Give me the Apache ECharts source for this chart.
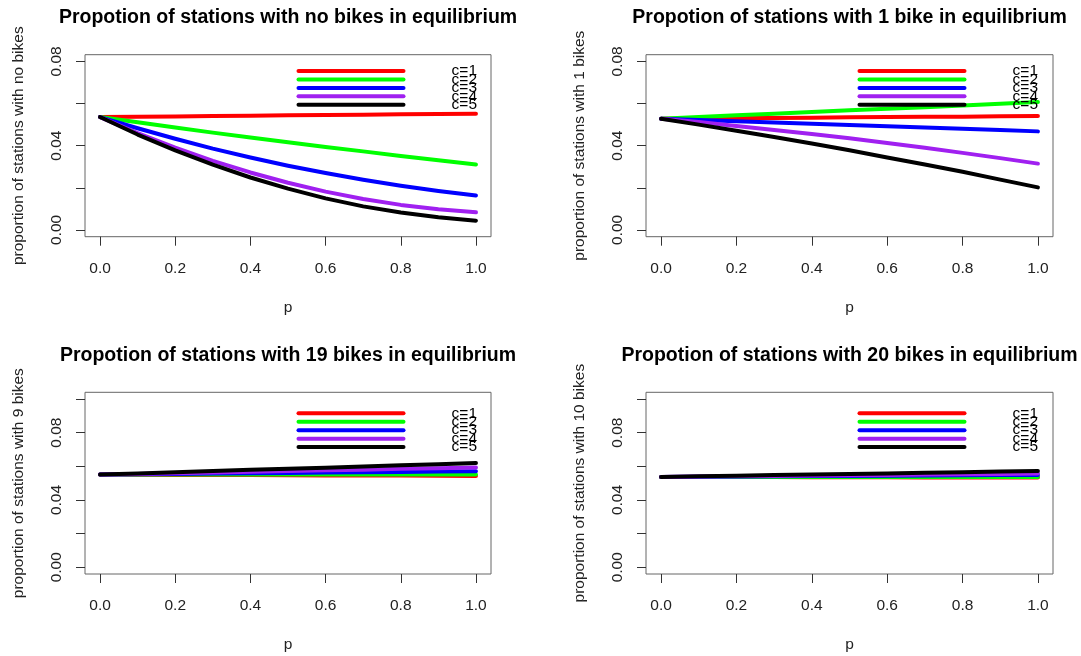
<!DOCTYPE html>
<html>
<head>
<meta charset="utf-8">
<script src="https://cdn.jsdelivr.net/npm/echarts@6/dist/echarts.min.js"></script>
<style>
html,body{margin:0;padding:0;background:#fff;}
#chart{width:1081px;height:656px;}
</style>
</head>
<body>
<div id="chart"></div>
<script>
// ---- data ----
const pVals = [0, 0.1, 0.2, 0.3, 0.4, 0.5, 0.6, 0.7, 0.8, 0.9, 1.0];
const seriesNames = ['c=1', 'c=2', 'c=3', 'c=4', 'c=5'];
const xTicks = [0, 0.2, 0.4, 0.6, 0.8, 1.0];
const yTicksTop = [0, 0.02, 0.04, 0.06, 0.08];
const yTicksBottom = [0, 0.02, 0.04, 0.06, 0.08, 0.10];
const yLabelTicks = [0, 0.04, 0.08];

const panelTitles = [
  'Propotion of stations with no bikes in equilibrium',
  'Propotion of stations with 1 bike in equilibrium',
  'Propotion of stations with 19 bikes in equilibrium',
  'Propotion of stations with 20 bikes in equilibrium'
];
const panelYNames = [
  'proportion of stations with no bikes',
  'proportion of stations with 1 bikes',
  'proportion of stations with 9 bikes',
  'proportion of stations with 10 bikes'
];

// panel 1: no bikes
const noBikesC1 = [0.0536,0.0538,0.0539,0.0541,0.0542,0.0544,0.0546,0.0547,0.0549,0.0550,0.0552];
const noBikesC2 = [0.0536,0.0511,0.0486,0.0462,0.0439,0.0416,0.0394,0.0373,0.0351,0.0331,0.0311];
const noBikesC3 = [0.0536,0.0483,0.0433,0.0386,0.0344,0.0305,0.0270,0.0238,0.0210,0.0185,0.0164];
const noBikesC4 = [0.0536,0.0460,0.0391,0.0328,0.0273,0.0224,0.0182,0.0147,0.0119,0.0098,0.0084];
const noBikesC5 = [0.0536,0.0453,0.0378,0.0310,0.0249,0.0196,0.0150,0.0112,0.0083,0.0060,0.0044];
// panel 2: 1 bike
const oneBikeC1 = [0.0528,0.0529,0.0531,0.0532,0.0533,0.0535,0.0536,0.0537,0.0538,0.0540,0.0541];
const oneBikeC2 = [0.0528,0.0536,0.0544,0.0552,0.0560,0.0568,0.0575,0.0583,0.0591,0.0599,0.0607];
const oneBikeC3 = [0.0528,0.0522,0.0516,0.0510,0.0504,0.0498,0.0492,0.0486,0.0480,0.0474,0.0468];
const oneBikeC4 = [0.0528,0.0512,0.0494,0.0475,0.0456,0.0435,0.0413,0.0390,0.0366,0.0341,0.0315];
const oneBikeC5 = [0.0528,0.0500,0.0471,0.0441,0.0410,0.0378,0.0344,0.0311,0.0276,0.0239,0.0202];
// panel 3: 19 bikes
const bikes19C1 = [0.0551,0.0550,0.0549,0.0549,0.0548,0.0547,0.0546,0.0545,0.0545,0.0544,0.0543];
const bikes19C2 = [0.0551,0.0551,0.0551,0.0551,0.0551,0.0551,0.0552,0.0552,0.0552,0.0552,0.0552];
const bikes19C3 = [0.0551,0.0553,0.0555,0.0557,0.0559,0.0561,0.0563,0.0565,0.0567,0.0569,0.0571];
const bikes19C4 = [0.0551,0.0555,0.0559,0.0564,0.0568,0.0572,0.0576,0.0580,0.0585,0.0589,0.0593];
const bikes19C5 = [0.0551,0.0558,0.0565,0.0572,0.0579,0.0586,0.0592,0.0599,0.0606,0.0613,0.0620];
// panel 4: 20 bikes
const bikes20C1 = [0.0537,0.0537,0.0536,0.0536,0.0535,0.0535,0.0535,0.0534,0.0534,0.0533,0.0533];
const bikes20C2 = [0.0537,0.0537,0.0537,0.0537,0.0537,0.0537,0.0537,0.0537,0.0537,0.0537,0.0537];
const bikes20C3 = [0.0537,0.0538,0.0539,0.0541,0.0542,0.0543,0.0544,0.0545,0.0547,0.0548,0.0549];
const bikes20C4 = [0.0537,0.0539,0.0541,0.0543,0.0545,0.0547,0.0549,0.0551,0.0553,0.0555,0.0557];
const bikes20C5 = [0.0537,0.0541,0.0544,0.0548,0.0551,0.0555,0.0558,0.0562,0.0565,0.0569,0.0572];

const panelData = [
  [noBikesC1, noBikesC2, noBikesC3, noBikesC4, noBikesC5],
  [oneBikeC1, oneBikeC2, oneBikeC3, oneBikeC4, oneBikeC5],
  [bikes19C1, bikes19C2, bikes19C3, bikes19C4, bikes19C5],
  [bikes20C1, bikes20C2, bikes20C3, bikes20C4, bikes20C5]
];

// ---- styling / layout ----
const colors = ['#ff0000', '#00ff00', '#0000ff', '#a020f0', '#000000'];
const FONT = '"Liberation Sans", Arial, Helvetica, sans-serif';
const grids = [
  { left: 85,  top: 54.7,  width: 406, height: 182 },
  { left: 646, top: 54.7,  width: 407, height: 182 },
  { left: 85,  top: 392.3, width: 406, height: 181.7 },
  { left: 646, top: 392.3, width: 407, height: 181.7 }
];
const yRanges = [
  [-0.0032, 0.0832, yTicksTop],
  [-0.0032, 0.0832, yTicksTop],
  [-0.004, 0.104, yTicksBottom],
  [-0.004, 0.104, yTicksBottom]
];
const legendTopOffset = [16.3, 16.3, 21, 21];
const legendStep = 8.45;

const option = {
  animation: false,
  backgroundColor: '#ffffff',
  title: panelTitles.map((t, i) => ({
    text: t,
    left: grids[i].left + grids[i].width / 2,
    top: grids[i].top - 47,
    padding: 0,
    textAlign: 'center',
    textStyle: { fontFamily: FONT, fontWeight: 'bold', fontSize: 19.5, color: '#000' }
  })),
  grid: grids.map(g => ({
    left: g.left, top: g.top, width: g.width, height: g.height,
    show: true, borderColor: '#666', borderWidth: 1, backgroundColor: 'transparent'
  })),
  xAxis: grids.map((g, i) => ({
    type: 'value', gridIndex: i, min: -0.04, max: 1.04,
    name: 'p', nameLocation: 'middle', nameGap: 63,
    nameTextStyle: { fontFamily: FONT, fontSize: 15.5, color: '#222' },
    splitLine: { show: false },
    axisLine: { show: false, onZero: false },
    axisTick: { show: true, length: 9, inside: false, customValues: xTicks, lineStyle: { color: '#333' } },
    axisLabel: { customValues: xTicks, margin: 24, fontFamily: FONT, fontSize: 15.5, color: '#222',
      formatter: v => v.toFixed(1) }
  })),
  yAxis: grids.map((g, i) => ({
    type: 'value', gridIndex: i, min: yRanges[i][0], max: yRanges[i][1],
    name: panelYNames[i], nameLocation: 'middle', nameGap: 58, nameRotate: 90,
    nameTextStyle: { fontFamily: FONT, fontSize: 15.5, color: '#222' },
    splitLine: { show: false },
    axisLine: { show: false, onZero: false },
    axisTick: { show: true, length: 9, inside: false, customValues: yRanges[i][2], lineStyle: { color: '#333' } },
    axisLabel: { customValues: yLabelTicks, rotate: 90, margin: 20, fontFamily: FONT, fontSize: 15.5, color: '#222',
      formatter: v => v.toFixed(2) }
  })),
  series: [],
  graphic: []
};

panelData.forEach((arrs, pi) => {
  arrs.forEach((vals, si) => {
    option.series.push({
      type: 'line',
      name: seriesNames[si],
      xAxisIndex: pi, yAxisIndex: pi,
      data: pVals.map((p, k) => [p, vals[k]]),
      showSymbol: false, symbol: 'none',
      lineStyle: { color: colors[si], width: 4, cap: 'round', join: 'round' },
      z: 2 + si
    });
  });
  const g = grids[pi];
  seriesNames.forEach((nm, si) => {
    const y = g.top + legendTopOffset[pi] + si * legendStep;
    option.graphic.push({
      type: 'line', z: 100,
      shape: { x1: g.left + 213.5, y1: y, x2: g.left + 318.5, y2: y },
      style: { stroke: colors[si], lineWidth: 4, lineCap: 'round' }
    });
    option.graphic.push({
      type: 'text', z: 101,
      x: g.left + 392, y: y,
      style: { text: nm, fill: '#000', font: '15.5px ' + FONT, textAlign: 'right', textVerticalAlign: 'middle' }
    });
  });
});

const chart = echarts.init(document.getElementById('chart'), null, { renderer: 'canvas' });
chart.setOption(option);
</script>
</body>
</html>
